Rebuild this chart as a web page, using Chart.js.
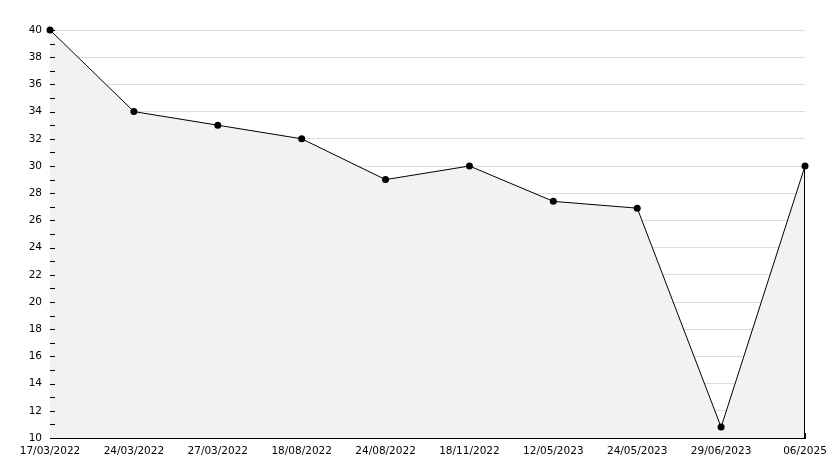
<!DOCTYPE html>
<html>
<head>
<meta charset="utf-8">
<script src="https://cdn.jsdelivr.net/npm/chart.js@4"></script>
<style>
html, body { margin: 0; padding: 0; background: #fff; }
#wrap { width: 834px; height: 468px; }
</style>
</head>
<body>
<div id="wrap"><canvas id="line_chart"></canvas></div>
<script>
// data
var dateLabels = ['17/03/2022', '24/03/2022', '27/03/2022', '18/08/2022', '24/08/2022',
	'18/11/2022', '12/05/2023', '24/05/2023', '29/06/2023', '06/2025'];
var values = [40, 34, 33, 32, 29, 30, 27.4, 26.9, 10.8, 30];
var yMin = 10, yMax = 40;

// y tick marks sit inside the plot, on top of the fill
// and the fill is closed on the right side like the original
var overlay = {
	id: 'overlay',
	afterDatasetsDraw: function (chart) {
		var ctx = chart.ctx;
		var area = chart.chartArea;
		var ys = chart.scales.y;
		ctx.save();
		ctx.strokeStyle = '#000';
		ctx.lineWidth = 1;
		ctx.beginPath();
		ys.ticks.forEach(function (t) {
			var py = Math.round(ys.getPixelForValue(t.value)) + 0.5;
			ctx.moveTo(area.left, py);
			ctx.lineTo(area.left + 5, py);
		});
		var meta = chart.getDatasetMeta(0);
		var last = meta.data[meta.data.length - 1];
		ctx.moveTo(Math.round(last.x) - 0.5, last.y);
		ctx.lineTo(Math.round(last.x) - 0.5, area.bottom);
		ctx.stroke();
		ctx.restore();
	}
};

Chart.defaults.font.family = 'DejaVu Sans';
Chart.defaults.font.size = 10.5;
Chart.defaults.color = '#000';

new Chart(document.getElementById('line_chart'), {
	type: 'line',
	data: {
		labels: dateLabels,
		datasets: [{
			data: values,
			borderColor: '#000',
			borderWidth: 1,
			backgroundColor: '#f2f2f2',
			fill: 'start',
			tension: 0,
			pointRadius: 3.5,
			pointBackgroundColor: '#000',
			pointBorderColor: '#000',
			pointBorderWidth: 0,
			clip: false
		}]
	},
	options: {
		responsive: true,
		maintainAspectRatio: false,
		animation: false,
		events: [],
		layout: { padding: { left: 0, right: 29, top: 30, bottom: 0 } },
		plugins: { legend: { display: false }, tooltip: { enabled: false } },
		scales: {
			x: {
				offset: false,
				z: 1,
				grid: { drawOnChartArea: false, tickLength: -5, tickColor: '#000' },
				border: { color: '#000' },
				ticks: { padding: 12, maxRotation: 0, autoSkip: false },
				afterFit: function (s) {
					s.height = 30;
					s.paddingLeft = 0;
					s.paddingRight = 0;
				}
			},
			y: {
				min: yMin,
				max: yMax,
				grid: {
					drawTicks: false,
					color: function (c) {
						var v = c.tick && c.tick.value;
						return (v % 2 === 0 && v !== yMin) ? '#dcdcdc' : 'rgba(0,0,0,0)';
					}
				},
				border: { color: '#000' },
				ticks: {
					stepSize: 1,
					autoSkip: false,
					padding: 8,
					callback: function (v) { return v % 2 === 0 ? v : ''; }
				},
				afterFit: function (s) {
					s.width = 50;
					s.paddingTop = 0;
					s.paddingBottom = 0;
				}
			}
		}
	},
	plugins: [overlay]
});
</script>
</body>
</html>
